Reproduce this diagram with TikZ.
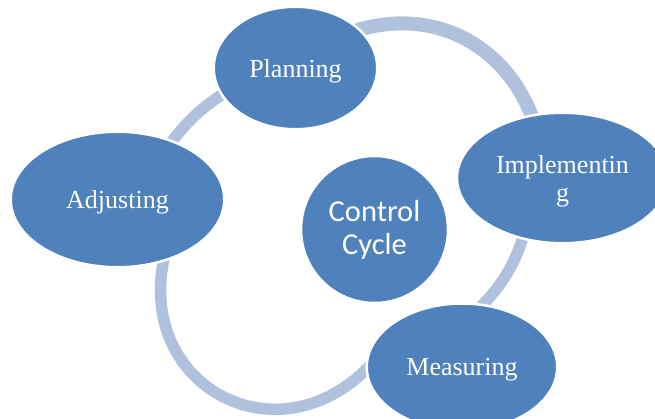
\documentclass[tikz,border=0pt]{standalone}
\usepackage{fontspec}
\setmainfont{Liberation Serif}
\newfontfamily\calfont{Carlito}
\usetikzlibrary{shapes.geometric,backgrounds}
\definecolor{cblue}{RGB}{79,129,189}
\definecolor{carc}{RGB}{176,193,221}
\begin{document}
\begin{tikzpicture}[x=1pt,y=1pt,
  blob/.style={ellipse, fill=cblue, draw=white, line width=2.5pt, inner sep=0pt,
    text=white, font=\fontsize{26}{28}\selectfont, text depth=0pt, align=center},
  hub/.style={circle, fill=cblue, draw=white, line width=2.5pt, inner sep=0pt,
    text=white, font=\calfont\fontsize{30.5}{33}\selectfont, align=center},
  ringarc/.style={draw=carc, line width=11.5pt, shorten <=-10pt, shorten >=-10pt}]
\useasboundingbox (0,0) rectangle (655,-419);
\node[blob, minimum width=163.5pt, minimum height=122.5pt] (plan) at (295.5,-68) {Planning};
\node[blob, minimum width=211pt, minimum height=130.5pt] (impl) at (562.5,-178) {Implementin\\g};
\node[blob, minimum width=190.5pt, minimum height=127pt] (meas) at (462,-367) {Measuring};
\node[blob, minimum width=213.5pt, minimum height=135.5pt] (adj) at (117.5,-199.5) {Adjusting};
\node[hub, minimum size=147pt] (ctrl) at (374.5,-229.5) {Control\\Cycle};
\begin{pgfonlayer}{background}
\fill[white] (0,0) rectangle (655,-419);
\draw[ringarc, line width=14pt] (plan.31) to[out=19,in=108.6] (impl.116);
\draw[ringarc] (impl.-123) to[out=-106,in=44.3,looseness=0.87] (meas.71);
\coordinate (c3) at (221.2,-395.7);
\draw[ringarc] (meas.182) to[out=-132,in=-28.25,looseness=0.95] (c3)
  to[out=151.75,in=-104.5,looseness=0.95] (adj.-54);
\draw[ringarc] (adj.47) to[out=54.8,in=211.9,looseness=0.86] (plan.200);
\end{pgfonlayer}
\end{tikzpicture}
\end{document}
